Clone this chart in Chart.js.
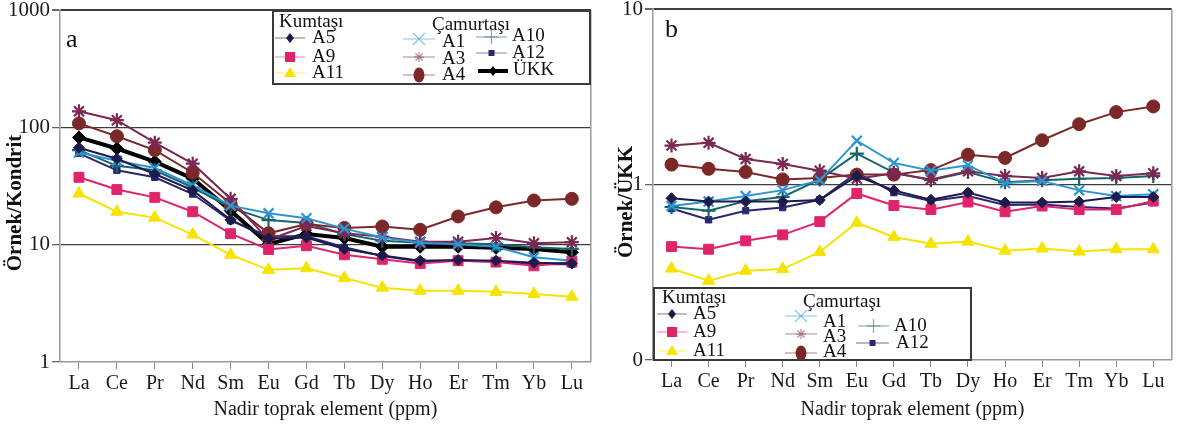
<!DOCTYPE html>
<html lang="tr">
<head>
<meta charset="utf-8">
<title>NTE diyagramları</title>
<script src="https://cdn.jsdelivr.net/npm/chart.js@4.4.1/dist/chart.umd.min.js"></script>
<style>
  html, body { margin: 0; padding: 0; background: #fff; }
  #wrap { position: relative; width: 1181px; height: 427px; overflow: hidden; }
  #grafik-a { position: absolute; left: 0; top: 0; }
  #grafik-b { position: absolute; left: 600px; top: 0; }
</style>
</head>
<body>
<div id="wrap">
  <canvas id="grafik-a" width="600" height="427"></canvas>
  <canvas id="grafik-b" width="581" height="427"></canvas>
</div>
<script>
const elementler = ['La', 'Ce', 'Pr', 'Nd', 'Sm', 'Eu', 'Gd', 'Tb', 'Dy', 'Ho', 'Er', 'Tm', 'Yb', 'Lu'];

const ticksKondrit = [1, 10, 100, 1000];
const etiketKondrit = ['1', '10', '100', '1000'];
const ticksUkk = [0.1, 1, 10];
const etiketUkk = ['0', '1', '10'];

/* ── Kondrite normalize (a) ── */
const kA5  = [67, 54, 40, 29, 16.3, 11.3, 11.5, 9.2, 8.1, 7.3, 7.4, 7.3, 7.0, 6.9];
const kA9  = [37.5, 29.5, 25.3, 19.1, 12.4, 9.1, 9.8, 8.2, 7.5, 6.9, 7.3, 7.1, 6.6, 7.1];
const kA11 = [27.3, 19.1, 17, 12.2, 8.2, 6.1, 6.3, 5.2, 4.3, 4.05, 4.05, 3.96, 3.8, 3.6];
const kA1  = [61, 52, 45, 32, 21.5, 18.5, 16.8, 13.7, 11.5, 10.4, 10.1, 9.6, 7.8, 7.3];
const kA3  = [137, 115, 74, 49, 24.6, 11, 14.4, 12.5, 11.7, 10.6, 10.6, 11.4, 10.3, 10.5];
const kA4  = [108, 84, 64, 41, 22.4, 12.5, 15, 13.9, 14.3, 13.4, 17.4, 20.8, 23.8, 24.6];
const kA10 = [64, 47, 43, 30.7, 20.7, 16.2, 15.3, 12.3, 10.8, 10.4, 10.3, 10.1, 9.5, 9.2];
const kA12 = [60, 43, 37.5, 27, 16, 11.8, 11.8, 9.5, 8.0, 7.2, 7.3, 7.2, 6.8, 6.8];
const kUKK = [82, 66, 51, 36.6, 19.5, 10.1, 12.3, 11.4, 9.6, 9.6, 9.6, 9.4, 9.2, 8.6];

/* ── ÜKK'ya normalize (b) ── */
const uA5  = [0.835, 0.80, 0.80, 0.80, 0.817, 1.12, 0.927, 0.82, 0.90, 0.79, 0.79, 0.80, 0.85, 0.85];
const uA9  = [0.443, 0.428, 0.478, 0.517, 0.615, 0.89, 0.76, 0.72, 0.795, 0.70, 0.755, 0.72, 0.72, 0.806];
const uA11 = [0.332, 0.283, 0.323, 0.33, 0.413, 0.606, 0.503, 0.46, 0.473, 0.42, 0.432, 0.415, 0.428, 0.428];
const uA1  = [0.755, 0.80, 0.86, 0.93, 1.06, 1.78, 1.33, 1.20, 1.29, 1.02, 1.05, 0.927, 0.86, 0.88];
const uA3  = [1.67, 1.73, 1.40, 1.31, 1.20, 1.08, 1.16, 1.07, 1.19, 1.12, 1.09, 1.19, 1.12, 1.16];
const uA4  = [1.30, 1.23, 1.18, 1.07, 1.09, 1.14, 1.14, 1.21, 1.48, 1.42, 1.79, 2.21, 2.59, 2.79];
const uA10 = [0.745, 0.71, 0.805, 0.85, 1.07, 1.50, 1.17, 1.06, 1.18, 1.03, 1.06, 1.08, 1.09, 1.12];
const uA12 = [0.73, 0.63, 0.71, 0.74, 0.82, 1.17, 0.90, 0.806, 0.86, 0.765, 0.77, 0.745, 0.73, 0.79];

const serif = "'Liberation Serif', 'DejaVu Serif', serif";

/* ── Seri stilleri ── */
const stil = {
  A5:  { renk: '#1d1b4c', nokta: 'rectRot',  r: 5.5, lejant: 'elmas' },
  A9:  { renk: '#e0246c', nokta: 'rect',     r: 7,   lejant: 'kare' },
  A11: { renk: '#f4e400', nokta: 'triangle', r: 7,   lejant: 'ucgen' },
  A1:  { renk: '#2c95d2', nokta: 'crossRot', r: 7,   lejant: 'carpi' },
  A3:  { renk: '#7b2852', nokta: 'star',     r: 7,   lejant: 'yildiz' },
  A4:  { renk: '#7c2828', nokta: 'circle',   r: 6.5, lejant: 'elips' },
  A10: { renk: '#17656b', nokta: 'cross',    r: 7,   lejant: 'arti' },
  A12: { renk: '#2a2670', nokta: 'rect',     r: 4.5, lejant: 'kucukKare' },
  'ÜKK': { renk: '#000000', nokta: 'rectRot', r: 6.5, lejant: 'elmas' }
};

function seri(ad, veri) {
  const s = stil[ad];
  const kalin = ad === 'ÜKK';
  const cizgili = s.nokta === 'crossRot' || s.nokta === 'cross' || s.nokta === 'star';
  return {
    label: ad,
    data: veri,
    borderColor: s.renk,
    backgroundColor: s.renk,
    borderWidth: kalin ? 4 : 2,
    pointStyle: s.nokta,
    pointRadius: s.r,
    pointBorderWidth: cizgili ? 2.2 : 1,
    pointBackgroundColor: s.renk,
    pointBorderColor: s.renk,
    tension: 0
  };
}

/* ── Lejant işaretleri ── */
function isaret(ctx, tip, x, y, renk) {
  ctx.save();
  ctx.fillStyle = renk;
  ctx.strokeStyle = renk;
  ctx.lineWidth = 1.2;
  ctx.beginPath();
  if (tip === 'elmas') {
    ctx.moveTo(x, y - 5); ctx.lineTo(x + 4, y); ctx.lineTo(x, y + 5); ctx.lineTo(x - 4, y); ctx.closePath(); ctx.fill();
  } else if (tip === 'kare') {
    ctx.rect(x - 5, y - 5, 10, 10); ctx.fill();
  } else if (tip === 'kucukKare') {
    ctx.rect(x - 3, y - 3, 6, 6); ctx.fill();
  } else if (tip === 'ucgen') {
    ctx.moveTo(x, y - 6); ctx.lineTo(x + 6, y + 4); ctx.lineTo(x - 6, y + 4); ctx.closePath(); ctx.fill();
  } else if (tip === 'carpi') {
    ctx.globalAlpha = 0.55;
    ctx.moveTo(x - 6, y - 6); ctx.lineTo(x + 6, y + 6); ctx.moveTo(x + 6, y - 6); ctx.lineTo(x - 6, y + 6); ctx.stroke();
  } else if (tip === 'arti') {
    ctx.globalAlpha = 0.55;
    ctx.moveTo(x, y - 7); ctx.lineTo(x, y + 7); ctx.moveTo(x - 7, y); ctx.lineTo(x + 7, y); ctx.stroke();
  } else if (tip === 'yildiz') {
    ctx.globalAlpha = 0.55;
    for (let i = 0; i < 4; i++) {
      const a = i * Math.PI / 4;
      ctx.moveTo(x - 5 * Math.cos(a), y - 5 * Math.sin(a));
      ctx.lineTo(x + 5 * Math.cos(a), y + 5 * Math.sin(a));
    }
    ctx.stroke();
  } else if (tip === 'elips') {
    ctx.ellipse(x, y, 5.5, 7.5, 0, 0, Math.PI * 2); ctx.fill();
  }
  ctx.restore();
}

const kutuLejant = {
  id: 'kutuLejant',
  afterDraw(chart, args, opt) {
    if (!opt || !opt.kutu) return;
    const { ctx } = chart;
    const k = opt.kutu;
    ctx.save();
    ctx.fillStyle = '#fff';
    ctx.fillRect(k.x, k.y, k.w, k.h);
    ctx.strokeStyle = '#3a3a3a';
    ctx.lineWidth = 2;
    ctx.strokeRect(k.x, k.y, k.w, k.h);

    ctx.fillStyle = '#111';
    ctx.textAlign = 'left';
    ctx.textBaseline = 'middle';
    ctx.font = `19px ${serif}`;
    opt.basliklar.forEach(b => ctx.fillText(b.text, b.x, b.y));

    opt.ogeler.forEach(o => {
      const s = stil[o.ad];
      const kalin = o.ad === 'ÜKK';
      ctx.save();
      ctx.strokeStyle = s.renk;
      ctx.globalAlpha = kalin ? 1 : 0.45;
      ctx.lineWidth = kalin ? 4 : 1.3;
      ctx.beginPath();
      ctx.moveTo(o.x1, o.y);
      ctx.lineTo(o.x2, o.y);
      ctx.stroke();
      ctx.restore();
      isaret(ctx, s.lejant, (o.x1 + o.x2) / 2, o.y, s.renk);
      ctx.fillStyle = '#111';
      ctx.fillText(o.ad, o.lx, o.ly);
    });

    if (opt.harf) {
      ctx.font = `26px ${serif}`;
      ctx.fillText(opt.harf.text, opt.harf.x, opt.harf.y);
    }

    // dikey eksen başlığı
    if (opt.yBaslik) {
      ctx.translate(opt.yBaslik.x, opt.yBaslik.y);
      ctx.rotate(-Math.PI / 2);
      ctx.textAlign = 'center';
      ctx.font = `bold 21px ${serif}`;
      ctx.fillText(opt.yBaslik.text, 0, 0);
    }
    ctx.restore();
  }
};

/* ── Sağ kenar çizgisi ── */
const cerceve = {
  id: 'cerceve',
  afterDatasetsDraw(chart) {
    const { ctx, chartArea: { top, bottom, right } } = chart;
    ctx.save();
    ctx.strokeStyle = '#9a9a9a';
    ctx.lineWidth = 1.5;
    ctx.beginPath();
    ctx.moveTo(right, top);
    ctx.lineTo(right, bottom);
    ctx.stroke();
    ctx.restore();
  }
};

function grafikOlustur(id, veriSetleri, eksen, lejant) {
  return new Chart(document.getElementById(id), {
    type: 'line',
    data: { labels: elementler, datasets: veriSetleri },
    options: {
      responsive: false,
      animation: false,
      devicePixelRatio: 1,
      layout: { padding: eksen.padding },
      plugins: {
        legend: { display: false },
        tooltip: { enabled: false },
        kutuLejant: lejant
      },
      scales: {
        x: {
          offset: true,
          grid: { drawOnChartArea: false, tickLength: 7, color: '#8a8a8a' },
          border: { color: '#9a9a9a', width: 1.5 },
          ticks: { color: '#1a1a1a', font: { family: serif, size: 20 }, padding: 3, autoSkip: false, maxRotation: 0 },
          title: {
            display: true, text: 'Nadir toprak element (ppm)', color: '#1a1a1a',
            font: { family: serif, size: 20 }, padding: { top: 4, bottom: 5 }
          },
          afterFit(s) { s.height = eksen.xYukseklik; s.paddingLeft = 0; s.paddingRight = 0; }
        },
        y: {
          type: 'logarithmic',
          min: eksen.min,
          max: eksen.max,
          afterBuildTicks(s) { s.ticks = eksen.ticks.map(v => ({ value: v })); },
          afterFit(s) { s.width = eksen.yGenislik; s.paddingTop = 0; s.paddingBottom = 0; },
          grid: {
            color: c => (c.tick && c.tick.value === eksen.min) ? 'rgba(0,0,0,0)' : '#3c3c3c',
            lineWidth: c => (c.tick && c.tick.value === eksen.max) ? 2 : 1.3,
            tickLength: 8,
            tickColor: '#666'
          },
          border: { color: '#9a9a9a', width: 1.5 },
          ticks: {
            color: '#1a1a1a',
            font: { family: serif, size: 21 },
            padding: 2,
            callback: v => {
              const i = eksen.ticks.indexOf(v);
              return i >= 0 ? eksen.etiketler[i] : '';
            }
          },
          title: { display: false }
        }
      }
    },
    plugins: [cerceve, kutuLejant]
  });
}

/* ── a: Kondrit ── */
grafikOlustur('grafik-a', [
  seri('A5', kA5), seri('A9', kA9), seri('A11', kA11),
  seri('A1', kA1), seri('A3', kA3), seri('A4', kA4),
  seri('A10', kA10), seri('A12', kA12), seri('ÜKK', kUKK)
], {
  min: 1, max: 1000, ticks: ticksKondrit, etiketler: etiketKondrit,
  padding: { left: 0, right: 8, top: 10, bottom: 0 },
  xYukseklik: 65, yGenislik: 60
}, {
  kutu: { x: 273, y: 11, w: 317, h: 73 },
  basliklar: [{ text: 'Kumtaşı', x: 279, y: 22 }, { text: 'Çamurtaşı', x: 432, y: 25 }],
  ogeler: [
    { ad: 'A5',  x1: 275, x2: 305, y: 38, lx: 312, ly: 38 },
    { ad: 'A9',  x1: 275, x2: 305, y: 57, lx: 312, ly: 57 },
    { ad: 'A11', x1: 275, x2: 305, y: 73, lx: 312, ly: 73 },
    { ad: 'A1',  x1: 403, x2: 435, y: 39, lx: 442, ly: 42 },
    { ad: 'A3',  x1: 403, x2: 435, y: 57, lx: 442, ly: 59 },
    { ad: 'A4',  x1: 403, x2: 435, y: 75, lx: 442, ly: 75 },
    { ad: 'A10', x1: 476, x2: 507, y: 37, lx: 512, ly: 36 },
    { ad: 'A12', x1: 476, x2: 507, y: 53, lx: 512, ly: 53 },
    { ad: 'ÜKK', x1: 478, x2: 508, y: 71, lx: 513, ly: 70 }
  ],
  harf: { text: 'a', x: 66, y: 40 },
  yBaslik: { text: 'Örnek/Kondrit', x: 16, y: 203 }
});

/* ── b: ÜKK ── */
grafikOlustur('grafik-b', [
  seri('A5', uA5), seri('A9', uA9), seri('A11', uA11),
  seri('A1', uA1), seri('A3', uA3), seri('A4', uA4),
  seri('A10', uA10), seri('A12', uA12)
], {
  min: 0.1, max: 10, ticks: ticksUkk, etiketler: etiketUkk,
  padding: { left: 0, right: 3, top: 8, bottom: 0 },
  xYukseklik: 67, yGenislik: 53
}, {
  kutu: { x: 54, y: 288, w: 317, h: 72 },
  basliklar: [{ text: 'Kumtaşı', x: 62, y: 298 }, { text: 'Çamurtaşı', x: 203, y: 302 }],
  ogeler: [
    { ad: 'A5',  x1: 57,  x2: 87,  y: 314, lx: 93,  ly: 314 },
    { ad: 'A9',  x1: 57,  x2: 87,  y: 332, lx: 93,  ly: 332 },
    { ad: 'A11', x1: 57,  x2: 87,  y: 351, lx: 93,  ly: 351 },
    { ad: 'A1',  x1: 185, x2: 217, y: 316, lx: 223, ly: 322 },
    { ad: 'A3',  x1: 185, x2: 217, y: 334, lx: 223, ly: 337 },
    { ad: 'A4',  x1: 185, x2: 217, y: 353, lx: 223, ly: 352 },
    { ad: 'A10', x1: 258, x2: 289, y: 326, lx: 294, ly: 326 },
    { ad: 'A12', x1: 256, x2: 289, y: 343, lx: 296, ly: 343 }
  ],
  harf: { text: 'b', x: 65, y: 30 },
  yBaslik: { text: 'Örnek/ÜKK', x: 27, y: 202 }
});
</script>
</body>
</html>
